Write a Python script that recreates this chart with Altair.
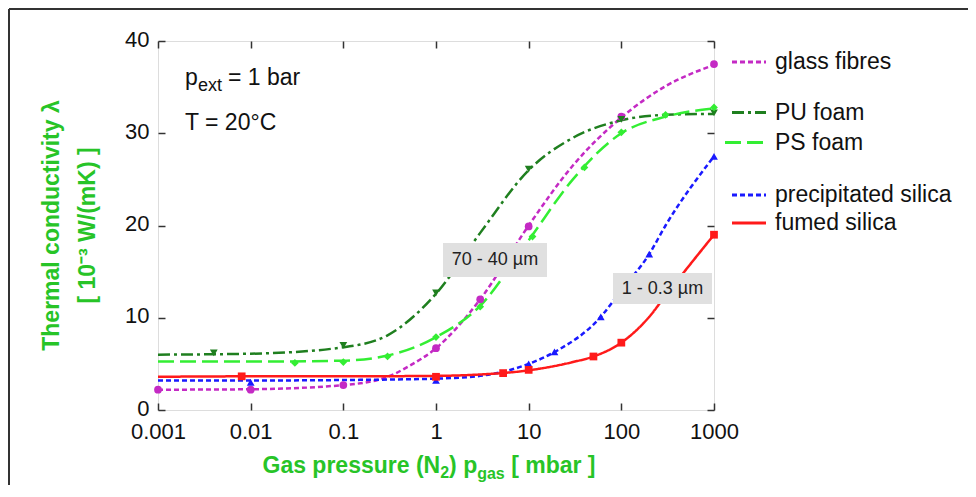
import altair as alt
import pandas as pd

FONT = "Liberation Sans, Arial, Helvetica, sans-serif"
GREEN_TITLE = "#27c427"

SERIES = ["glass fibres", "PU foam", "PS foam", "precipitated silica", "fumed silica"]
COLORS = ["#c42ac4", "#1f7f1f", "#33ee33", "#1a1aff", "#ff1a1a"]
DASHES = [[5, 3], [12, 4, 3, 4], [16, 6], [5, 3], [1, 0]]
SHAPES = ["circle", "triangle-down", "diamond", "triangle-up", "square"]
MSIZES = [60, 60, 55, 60, 80]

# ---- smooth curves ----
GF_CURVE_P = [0.001, 0.01, 0.1, 0.3, 0.5, 1, 3, 10, 30, 100, 300, 1000]
GF_CURVE_V = [2.2, 2.25, 2.7, 3.6, 4.7, 6.7, 12.0, 20.0, 26.5, 31.7, 35.1, 37.4]
PU_CURVE_P = [0.001, 0.01, 0.1, 0.3, 1, 3, 10, 30, 100, 300, 1000]
PU_CURVE_V = [6.0, 6.1, 6.8, 8.1, 12.6, 19.2, 26.0, 29.5, 31.4, 32.0, 32.1]
PS_CURVE_P = [0.001, 0.01, 0.1, 0.3, 1, 3, 10, 30, 100, 300, 1000]
PS_CURVE_V = [5.25, 5.25, 5.35, 5.9, 7.9, 11.3, 18.4, 25.0, 30.0, 31.8, 32.7]
PR_CURVE_P = [0.001, 0.01, 0.1, 1, 3, 10, 20, 60, 100, 200, 300, 1000]
PR_CURVE_V = [3.2, 3.2, 3.25, 3.4, 3.7, 5.0, 6.4, 10.1, 13.0, 16.9, 20.0, 27.5]
FS_CURVE_P = [0.001, 0.01, 0.1, 1, 3, 10, 30, 50, 100, 200, 300, 1000]
FS_CURVE_V = [3.6, 3.65, 3.65, 3.7, 3.85, 4.3, 5.2, 5.8, 7.3, 10.1, 12.4, 19.0]

# ---- measured points (markers) ----
GF_PTS_P = [0.001, 0.01, 0.1, 1, 3, 10, 100, 1000]
GF_PTS_V = [2.2, 2.2, 2.7, 6.7, 12.0, 19.9, 31.8, 37.5]
PU_PTS_P = [0.004, 0.1, 1, 10, 100, 1000]
PU_PTS_V = [6.2, 7.0, 12.7, 26.1, 31.5, 32.2]
PS_PTS_P = [0.03, 0.1, 0.3, 1, 3, 11, 40, 100, 300, 1000]
PS_PTS_V = [5.1, 5.2, 5.8, 7.9, 11.2, 18.8, 26.3, 30.1, 32.0, 32.8]
PR_PTS_P = [0.01, 1, 10, 19, 60, 200, 1000]
PR_PTS_V = [3.0, 3.2, 5.0, 6.3, 10.1, 16.9, 27.5]
FS_PTS_P = [0.008, 1, 5.3, 10, 50, 100, 1000]
FS_PTS_V = [3.65, 3.6, 4.0, 4.35, 5.8, 7.3, 19.0]

X_TICKS = [0.001, 0.01, 0.1, 1, 10, 100, 1000]
Y_TICKS = [0, 10, 20, 30, 40]

curves = [(GF_CURVE_P, GF_CURVE_V), (PU_CURVE_P, PU_CURVE_V), (PS_CURVE_P, PS_CURVE_V),
          (PR_CURVE_P, PR_CURVE_V), (FS_CURVE_P, FS_CURVE_V)]
points = [(GF_PTS_P, GF_PTS_V), (PU_PTS_P, PU_PTS_V), (PS_PTS_P, PS_PTS_V),
          (PR_PTS_P, PR_PTS_V), (FS_PTS_P, FS_PTS_V)]

curve_df = pd.concat([pd.DataFrame({"p": p, "v": v, "series": s})
                      for s, (p, v) in zip(SERIES, curves)], ignore_index=True)
pts_df = pd.concat([pd.DataFrame({"p": p, "v": v, "series": s})
                    for s, (p, v) in zip(SERIES, points)], ignore_index=True)

W, H = 556, 369

xscale = alt.Scale(type="log", domain=[0.001, 1000], nice=False)
yscale = alt.Scale(domain=[0, 40], nice=False, zero=False)

color = alt.Color("series:N", scale=alt.Scale(domain=SERIES, range=COLORS), legend=None)

ax_common = dict(offset=-7, tickSize=7, domain=False, grid=False, tickColor="#333",
                 tickWidth=1.5, title=None)
x_bottom = alt.Axis(orient="bottom", values=X_TICKS, format="~g", labelFontSize=22,
                    labelFont=FONT, labelColor="#111", labelPadding=11, labelOverlap=False,
                    labelFlush=False, **ax_common)
y_left = alt.Axis(orient="left", values=Y_TICKS, labelFontSize=22, labelFont=FONT,
                  labelColor="#111", labelPadding=9, labelOverlap=False, labelFlush=False,
                  labelOffset=-2, **ax_common)
x_top = alt.Axis(orient="top", values=X_TICKS, labels=False, **ax_common)
y_right = alt.Axis(orient="right", values=Y_TICKS, labels=False, **ax_common)

lines = alt.Chart(curve_df).mark_line(strokeWidth=2.5, interpolate="monotone").encode(
    x=alt.X("p:Q", scale=xscale, axis=x_bottom),
    y=alt.Y("v:Q", scale=yscale, axis=y_left),
    color=color,
    strokeDash=alt.StrokeDash("series:N", scale=alt.Scale(domain=SERIES, range=DASHES), legend=None),
    detail="series:N",
)

marks = alt.Chart(pts_df).mark_point(filled=True, opacity=1).encode(
    x=alt.X("p:Q", scale=xscale, axis=x_top),
    y=alt.Y("v:Q", scale=yscale, axis=y_right),
    color=color,
    shape=alt.Shape("series:N", scale=alt.Scale(domain=SERIES, range=SHAPES), legend=None),
    size=alt.Size("series:N", scale=alt.Scale(domain=SERIES, range=MSIZES), legend=None),
)

ONE = alt.Data(values=[{}])


def txt(s, x, y, size, bold=False, color="#111", align="left", baseline="alphabetic", angle=0):
    kw = dict(text=s, fontSize=size, font=FONT, color=color, align=align, baseline=baseline,
              fontWeight="bold" if bold else "normal")
    if angle:
        kw["angle"] = angle
    return alt.Chart(ONE).mark_text(**kw).encode(x=alt.value(x), y=alt.value(y))


def box(x1, x2, y1, y2):
    return alt.Chart(ONE).mark_rect(fill="#e0e0e0").encode(
        x=alt.value(x1), x2=alt.value(x2), y=alt.value(y1), y2=alt.value(y2))


deco = []
# grey size boxes
deco.append(box(285, 389, 202, 236))
deco.append(txt("70 - 40 µm", 337, 219, 18, align="center", baseline="middle", color="#222"))
deco.append(box(455, 554, 232, 263))
deco.append(txt("1 - 0.3 µm", 504.5, 247.5, 18, align="center", baseline="middle", color="#222"))

# conditions text
deco.append(txt("p", 27, 44, 23))
deco.append(txt("ext", 40, 50, 18))
deco.append(txt("= 1 bar", 70, 44, 23))
deco.append(txt("T = 20°C", 27, 89, 23))

# legend
LEG_Y = [21, 71.5, 101.5, 154, 182]
LEG_X0 = [574, 574, 567, 574, 574]
for i, s in enumerate(SERIES):
    deco.append(alt.Chart(ONE).mark_rule(strokeWidth=3, color=COLORS[i], strokeDash=DASHES[i]).encode(
        x=alt.value(LEG_X0[i]), x2=alt.value(608), y=alt.value(LEG_Y[i])))
    deco.append(txt(s, 617, LEG_Y[i], 23, baseline="middle"))

# y title (two lines, rotated)
deco.append(txt("Thermal conductivity λ", -106, 184.5, 23, bold=True, color=GREEN_TITLE,
                align="center", baseline="middle", angle=270))
deco.append(txt("[ 10⁻³ W/(mK) ]", -70, 184.5, 23, bold=True, color=GREEN_TITLE,
                align="center", baseline="middle", angle=270))

# x title with subscripts
BOLD_W = {'G': .778, 'a': .556, 's': .556, ' ': .278, 'p': .611, 'r': .389, 'e': .556,
          'u': .611, '(': .333, 'N': .722, '2': .556, ')': .333, 'g': .611, '[': .333,
          'm': .889, 'b': .611, ']': .333}


def tw(s, size):
    return sum(BOLD_W[c] for c in s) * size


pieces = [("Gas pressure (N", 23, 0, 0), ("2", 16, 5, 0), (") p", 23, 0, 0),
          ("gas", 16, 6, 0), ("[ mbar ]", 23, 0, tw(" ", 23))]
total = sum(tw(t, s) + pre for t, s, _, pre in pieces)
cx = 271 - total / 2
for t, s, dy, pre in pieces:
    cx += pre
    deco.append(txt(t, cx, 432 + dy, s, bold=True, color=GREEN_TITLE))
    cx += tw(t, s)

# outer figure frame
deco.append(alt.Chart(ONE).mark_rule(color="#333", strokeWidth=2).encode(
    x=alt.value(-149), y=alt.value(-32), y2=alt.value(460)))
deco.append(alt.Chart(ONE).mark_rule(color="#333", strokeWidth=2).encode(
    x=alt.value(-149), x2=alt.value(820), y=alt.value(-32)))

chart = alt.layer(lines, marks, *deco).resolve_axis(x="independent", y="independent").properties(
    width=W, height=H,
    autosize=alt.AutoSizeParams(type="none"),
    padding={"left": 150, "top": 33, "right": 254, "bottom": 75},
).configure_view(stroke="#111", strokeWidth=1.5).configure(background="white")

chart.save("out.html", embed_options={"renderer": "svg", "actions": False})
